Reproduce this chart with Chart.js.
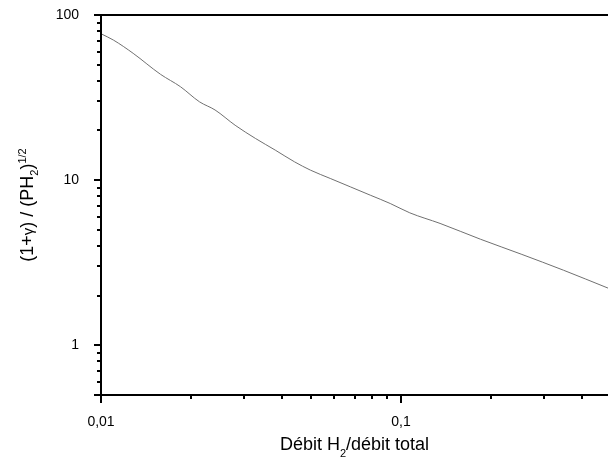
<!DOCTYPE html>
<html>
<head>
<meta charset="utf-8">
<script src="https://cdn.jsdelivr.net/npm/chart.js@4.4.0/dist/chart.umd.min.js"></script>
<style>
  html, body { margin: 0; padding: 0; background: #fff; overflow: hidden; }
  #wrap { width: 608px; height: 463px; }
</style>
</head>
<body>
<div id="wrap"><canvas id="chart"></canvas></div>
<script>
// values (log-log)
var debit = [0.01, 0.011, 0.0128, 0.0158, 0.0184, 0.0213, 0.0240, 0.0280, 0.0327, 0.0381, 0.0442, 0.0499, 0.0581, 0.0678, 0.0790, 0.0921, 0.107, 0.135, 0.184, 0.253, 0.348, 0.49];
var ratio = [77, 70.5, 58.6, 43.7, 36.8, 29.8, 26.6, 21.5, 17.9, 15.2, 12.9, 11.5, 10.24, 9.11, 8.11, 7.22, 6.34, 5.47, 4.39, 3.55, 2.85, 2.22];

var xMajor = [0.01, 0.1];
var xMinor = [0.02, 0.03, 0.04, 0.05, 0.06, 0.07, 0.08, 0.09, 0.2, 0.3, 0.4];
var yMajor = [1, 10, 100];
var yMinor = [0.6, 0.7, 0.8, 0.9, 2, 3, 4, 5, 6, 7, 8, 9, 20, 30, 40, 50, 60, 70, 80, 90];

var FONT = "'Liberation Sans', Arial, sans-serif";

function drawParts(ctx, parts, cx, y) {
  var total = 0;
  parts.forEach(function(p) {
    ctx.font = p.size + "px " + FONT;
    p.w = ctx.measureText(p.t).width;
    total += p.w;
  });
  var x = cx - total / 2;
  ctx.textAlign = "left";
  ctx.textBaseline = "alphabetic";
  parts.forEach(function(p) {
    ctx.font = p.size + "px " + FONT;
    ctx.fillText(p.t, x, y + (p.dy || 0));
    x += p.w;
  });
}

var framePlugin = {
  id: "frame",
  afterDraw: function(chart) {
    var ctx = chart.ctx, a = chart.chartArea;
    var xs = chart.scales.x, ys = chart.scales.y;
    ctx.save();
    ctx.strokeStyle = "#000";
    ctx.lineWidth = 2;
    ctx.beginPath();
    ctx.moveTo(a.right, a.top); ctx.lineTo(a.left, a.top);
    ctx.lineTo(a.left, a.bottom); ctx.lineTo(a.right, a.bottom);
    ctx.stroke();

    ctx.beginPath();
    yMajor.concat([0.5]).forEach(function(v) {
      var p = Math.round(ys.getPixelForValue(v));
      ctx.moveTo(a.left - 7, p); ctx.lineTo(a.left, p);
    });
    yMinor.forEach(function(v) {
      var p = Math.round(ys.getPixelForValue(v));
      ctx.moveTo(a.left - 4, p); ctx.lineTo(a.left, p);
    });
    xMajor.forEach(function(v) {
      var p = Math.round(xs.getPixelForValue(v));
      ctx.moveTo(p, a.bottom); ctx.lineTo(p, a.bottom + 8);
    });
    xMinor.forEach(function(v) {
      var p = Math.round(xs.getPixelForValue(v));
      ctx.moveTo(p, a.bottom); ctx.lineTo(p, a.bottom + 4);
    });
    ctx.stroke();

    // axis titles with sub/superscripts
    ctx.fillStyle = "#000";
    drawParts(ctx, [
      {t: "Débit H", size: 18},
      {t: "2", size: 11, dy: 7},
      {t: "/débit total", size: 18}
    ], (a.left + a.right) / 2, 450);

    ctx.translate(33, (a.top + a.bottom) / 2);
    ctx.rotate(-Math.PI / 2);
    drawParts(ctx, [
      {t: "(1+", size: 18},
      {t: "γ", size: 15},
      {t: ") / (PH", size: 18},
      {t: "2", size: 11, dy: 5},
      {t: ")", size: 18},
      {t: "1/2", size: 11, dy: -7}
    ], 0, 0);
    ctx.restore();
  }
};

new Chart(document.getElementById("chart"), {
  type: "line",
  data: {
    datasets: [{
      data: debit.map(function(d, i) { return {x: d, y: ratio[i]}; }),
      borderColor: "#707070",
      borderWidth: 1,
      pointRadius: 0,
      cubicInterpolationMode: "monotone",
      fill: false
    }]
  },
  options: {
    responsive: true,
    maintainAspectRatio: false,
    animation: false,
    layout: { padding: { top: 15, right: 0, left: 0, bottom: 0 } },
    plugins: { legend: { display: false }, tooltip: { enabled: false } },
    scales: {
      x: {
        type: "logarithmic",
        min: 0.01,
        max: 0.49,
        afterBuildTicks: function(s) { s.ticks = xMajor.map(function(v) { return {value: v}; }); },
        afterFit: function(s) { s.height = 68; s.paddingLeft = 0; s.paddingRight = 0; },
        grid: { display: false },
        border: { display: false },
        ticks: {
          color: "#000",
          font: { family: FONT, size: 14 },
          padding: 11,
          maxRotation: 0,
          autoSkip: false,
          callback: function(v) { return String(v).replace(".", ","); }
        }
      },
      y: {
        type: "logarithmic",
        min: 0.5,
        max: 100,
        afterBuildTicks: function(s) { s.ticks = yMajor.map(function(v) { return {value: v}; }); },
        afterFit: function(s) { s.width = 101; s.paddingTop = 0; s.paddingBottom = 0; },
        grid: { display: false },
        border: { display: false },
        ticks: {
          color: "#000",
          font: { family: FONT, size: 14 },
          padding: 14,
          autoSkip: false,
          callback: function(v) { return String(v); }
        }
      }
    }
  },
  plugins: [framePlugin]
});
</script>
</body>
</html>
